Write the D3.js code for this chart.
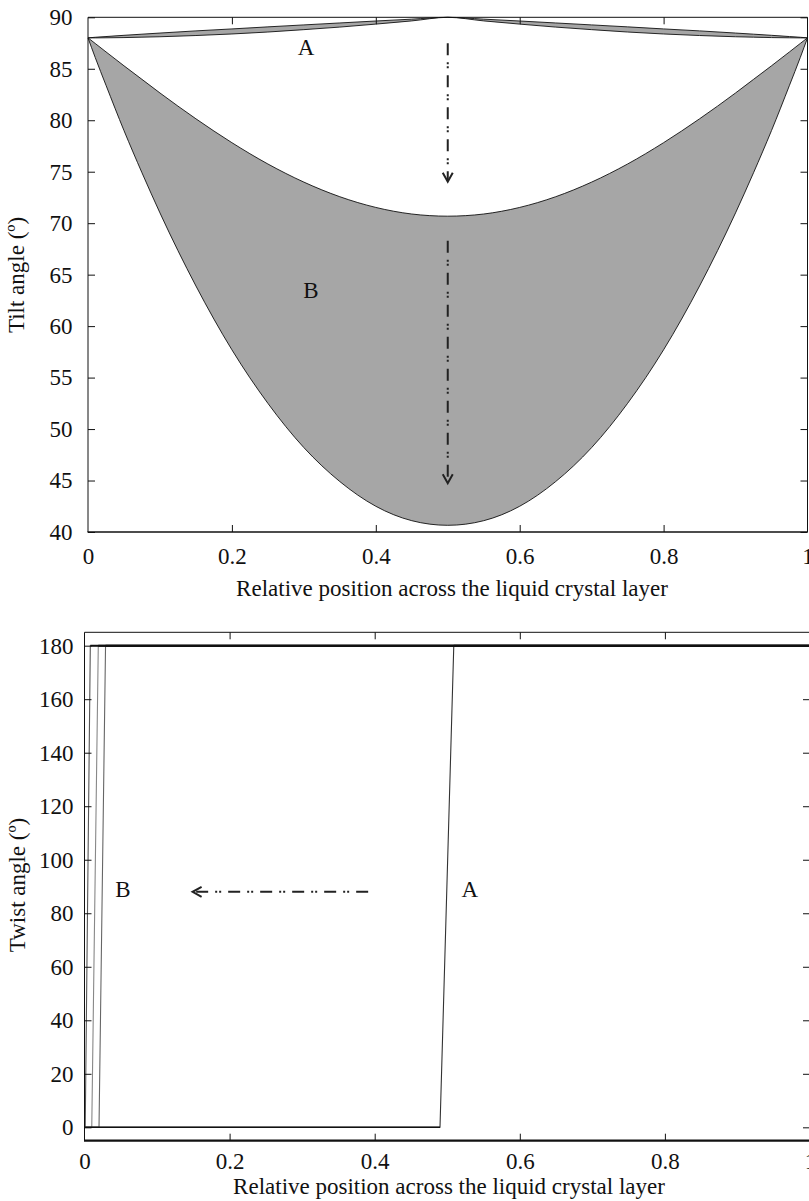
<!DOCTYPE html>
<html>
<head>
<meta charset="utf-8">
<script src="https://cdn.jsdelivr.net/npm/d3@7"></script>
<style>
  body { margin: 0; background: #fff; }
  svg { display: block; }
  text { font-family: "Liberation Serif", "Times New Roman", serif; fill: #111; }
</style>
</head>
<body>
<svg id="chart" width="809" height="1201"></svg>
<script>
// ---- Tilt profiles (upper panel) ----
const tiltX = [0, 0.01, 0.025, 0.05, 0.075, 0.1, 0.15, 0.2, 0.25, 0.3, 0.35, 0.4, 0.45, 0.5,
               0.55, 0.6, 0.65, 0.7, 0.75, 0.8, 0.85, 0.9, 0.925, 0.95, 0.975, 0.99, 1];
// narrow band A
const bandAUpper = [88, 88.06, 88.13, 88.25, 88.36, 88.47, 88.68, 88.87, 89.07, 89.26, 89.45, 89.64, 89.82, 90,
                    89.82, 89.64, 89.45, 89.26, 89.07, 88.87, 88.68, 88.47, 88.36, 88.25, 88.13, 88.06, 88];
const bandALower = [88, 88.00, 88.01, 88.03, 88.07, 88.11, 88.23, 88.38, 88.57, 88.80, 89.05, 89.34, 89.65, 90,
                    89.65, 89.34, 89.05, 88.80, 88.57, 88.38, 88.23, 88.11, 88.07, 88.03, 88.01, 88.00, 88];
// wide band B
const bandBUpper = [88, 87.46, 86.64, 85.29, 83.97, 82.65, 80.14, 77.82, 75.75, 73.99, 72.57, 71.53, 70.89, 70.68,
                    70.89, 71.53, 72.57, 73.99, 75.75, 77.82, 80.14, 82.65, 83.97, 85.29, 86.64, 87.46, 88];
const bandBLower = [88, 86.1, 83.4, 79.0, 74.9, 71.0, 63.9, 57.7, 52.5, 48.2, 44.9, 42.5, 41.1, 40.65,
                    41.1, 42.5, 44.9, 48.2, 52.5, 57.7, 63.9, 71.0, 74.9, 79.0, 83.4, 86.1, 88];

// ---- Twist profiles (lower panel): position breakpoints, twist values ----
const twistLevels = [0, 0, 180, 180];
const twistProfiles = [
  { name: "B1", x: [0, 0.001, 0.008, 1], color: "#555" },
  { name: "B2", x: [0, 0.010, 0.019, 1], color: "#888" },
  { name: "B3", x: [0, 0.020, 0.029, 1], color: "#666" },
  { name: "A",  x: [0, 0.490, 0.509, 1], color: "#333" }
];

// ---- Axis ticks ----
const xTicks = [0, 0.2, 0.4, 0.6, 0.8, 1];
const tiltTicks = [40, 45, 50, 55, 60, 65, 70, 75, 80, 85, 90];
const twistTicks = [0, 20, 40, 60, 80, 100, 120, 140, 160, 180];

// ---- Annotations ----
const tiltArrows = [
  { x0: 0.5, y0: 87.47, x1: 0.5, y1: 74.03 },
  { x0: 0.5, y0: 68.3,  x1: 0.5, y1: 44.73 }
];
const twistArrows = [ { x0: 0.391, y0: 88, x1: 0.149, y1: 88 } ];
const tiltLabels = [ { t: "A", x: 0.303, y: 86.34 }, { t: "B", x: 0.31, y: 62.73 } ];
const twistLabels = [ { t: "B", x: 0.053, y: 86.06 }, { t: "A", x: 0.531, y: 86.06 } ];

const xTitle = "Relative position across the liquid crystal layer";

const svg = d3.select("#chart");
const fmtX = d => String(+d.toFixed(1));

function frame(g, x, y, bottomWidth) {
  const [x0, x1] = x.range();
  const [yb, yt] = y.range();
  g.append("line").attr("x1", x0).attr("x2", x1).attr("y1", yt).attr("y2", yt)
    .attr("stroke", "#111").attr("stroke-width", 1);
  g.append("line").attr("x1", x0).attr("x2", x0).attr("y1", yt).attr("y2", yb)
    .attr("stroke", "#111").attr("stroke-width", 1);
  g.append("line").attr("x1", x1).attr("x2", x1).attr("y1", yt).attr("y2", yb)
    .attr("stroke", "#111").attr("stroke-width", 1);
  g.append("line").attr("x1", x0 - 0.5).attr("x2", x1).attr("y1", yb).attr("y2", yb)
    .attr("stroke", "#111").attr("stroke-width", bottomWidth);
}

function axes(g, x, y, yTicks, opt) {
  const [x0, x1] = x.range();
  const [yb, yt] = y.range();
  const tl = 7;
  const noDomain = s => s.select(".domain").remove();
  g.append("g").attr("transform", `translate(0,${yb})`)
    .call(d3.axisBottom(x).tickValues(xTicks).tickFormat(fmtX).tickSize(-tl).tickPadding(opt.xPad))
    .call(noDomain)
    .call(s => s.selectAll("text").style("font-size", "23px").attr("fill", "#111"))
    .call(s => s.selectAll(".tick line").attr("stroke", "#111")
      .filter(d => d === 0 || d === 1).remove());
  g.append("g").attr("transform", `translate(0,${yt})`)
    .call(d3.axisTop(x).tickValues(xTicks.slice(1, -1)).tickFormat("").tickSize(-tl))
    .call(noDomain)
    .call(s => s.selectAll(".tick line").attr("stroke", "#111"));
  g.append("g").attr("transform", `translate(${x0},0)`)
    .call(d3.axisLeft(y).tickValues(yTicks).tickSize(-tl).tickPadding(opt.yPad))
    .call(noDomain)
    .call(s => s.selectAll("text").style("font-size", "23px").attr("fill", "#111"))
    .call(s => s.selectAll(".tick line").attr("stroke", "#111"));
  g.append("g").attr("transform", `translate(${x1},0)`)
    .call(d3.axisRight(y).tickValues(yTicks).tickFormat("").tickSize(-tl))
    .call(noDomain)
    .call(s => s.selectAll(".tick line").attr("stroke", "#111"));
}

function arrow(g, x, y, a) {
  const p0 = [x(a.x0), y(a.y0)], p1 = [x(a.x1), y(a.y1)];
  const dx = p1[0] - p0[0], dy = p1[1] - p0[1];
  const len = Math.hypot(dx, dy);
  const ux = dx / len, uy = dy / len;
  g.append("line")
    .attr("x1", p0[0]).attr("y1", p0[1]).attr("x2", p1[0] - ux * 1).attr("y2", p1[1] - uy * 1)
    .attr("stroke", "#222").attr("stroke-width", 2)
    .attr("stroke-dasharray", "12,7,2,2,2,7");
  const back = 9, half = 5;
  const bx = p1[0] - ux * back, by = p1[1] - uy * back;
  g.append("path")
    .attr("d", `M${bx - uy * half},${by + ux * half}L${p1[0]},${p1[1]}L${bx + uy * half},${by - ux * half}`)
    .attr("fill", "none").attr("stroke", "#222").attr("stroke-width", 2);
}

// ================= Upper panel: tilt angle =================
{
  const x = d3.scaleLinear().domain([0, 1]).range([88, 807.5]);
  const y = d3.scaleLinear().domain([40, 90]).range([532, 17.3]);
  const g = svg.append("g");

  const bands = [
    { lo: bandBLower, hi: bandBUpper },
    { lo: bandALower, hi: bandAUpper }
  ];
  const area = d3.area().x(d => x(d.x)).y0(d => y(d.lo)).y1(d => y(d.hi)).curve(d3.curveMonotoneX);
  const line = d3.line().x(d => x(d[0])).y(d => y(d[1])).curve(d3.curveMonotoneX);
  bands.forEach(b => {
    const pts = tiltX.map((v, i) => ({ x: v, lo: b.lo[i], hi: b.hi[i] }));
    g.append("path").attr("d", area(pts)).attr("fill", "#a6a6a6").attr("stroke", "none");
    [b.lo, b.hi].forEach(arr => {
      g.append("path").attr("d", line(tiltX.map((v, i) => [v, arr[i]])))
        .attr("fill", "none").attr("stroke", "#111").attr("stroke-width", 0.9);
    });
  });

  tiltArrows.forEach(a => arrow(g, x, y, a));
  tiltLabels.forEach(l => g.append("text").attr("x", x(l.x)).attr("y", y(l.y))
    .attr("text-anchor", "middle").style("font-size", "23px").text(l.t));

  frame(g, x, y, 1.4);
  axes(g, x, y, tiltTicks, { xPad: 16, yPad: 15.5 });

  g.append("text").attr("x", 452).attr("y", 596).attr("text-anchor", "middle")
    .style("font-size", "23px").text(xTitle);
  g.append("text").attr("transform", "translate(24,275) rotate(-90)").attr("text-anchor", "middle")
    .style("font-size", "23px").text("Tilt angle (º)");
}

// ================= Lower panel: twist angle =================
{
  const x = d3.scaleLinear().domain([0, 1]).range([84.5, 810]);
  const y = d3.scaleLinear().domain([-5, 185]).range([1140.7, 632.3]);
  const g = svg.append("g");
  const line = d3.line().x(d => x(d[0])).y(d => y(d[1]));

  twistProfiles.forEach(p => {
    g.append("path").attr("d", line(p.x.map((v, i) => [v, twistLevels[i]])))
      .attr("fill", "none").attr("stroke", p.color).attr("stroke-width", 1.1);
  });
  // shared plateaus drawn darker on top
  twistProfiles.forEach(p => {
    g.append("path").attr("d", line([[p.x[2], 180], [p.x[3], 180]]))
      .attr("fill", "none").attr("stroke", "#111").attr("stroke-width", 2);
  });
  const lastA = twistProfiles[twistProfiles.length - 1];
  g.append("path").attr("d", line([[lastA.x[0], 0], [lastA.x[1], 0]]))
    .attr("fill", "none").attr("stroke", "#111").attr("stroke-width", 1.5);

  twistArrows.forEach(a => arrow(g, x, y, a));
  twistLabels.forEach(l => g.append("text").attr("x", x(l.x)).attr("y", y(l.y))
    .attr("text-anchor", "middle").style("font-size", "23px").text(l.t));

  frame(g, x, y, 2.2);
  axes(g, x, y, twistTicks, { xPad: 12, yPad: 11 });

  g.append("text").attr("x", 449).attr("y", 1194).attr("text-anchor", "middle")
    .style("font-size", "23px").text(xTitle);
  g.append("text").attr("transform", "translate(25,885) rotate(-90)").attr("text-anchor", "middle")
    .style("font-size", "23px").text("Twist angle (º)");
}
</script>
</body>
</html>
